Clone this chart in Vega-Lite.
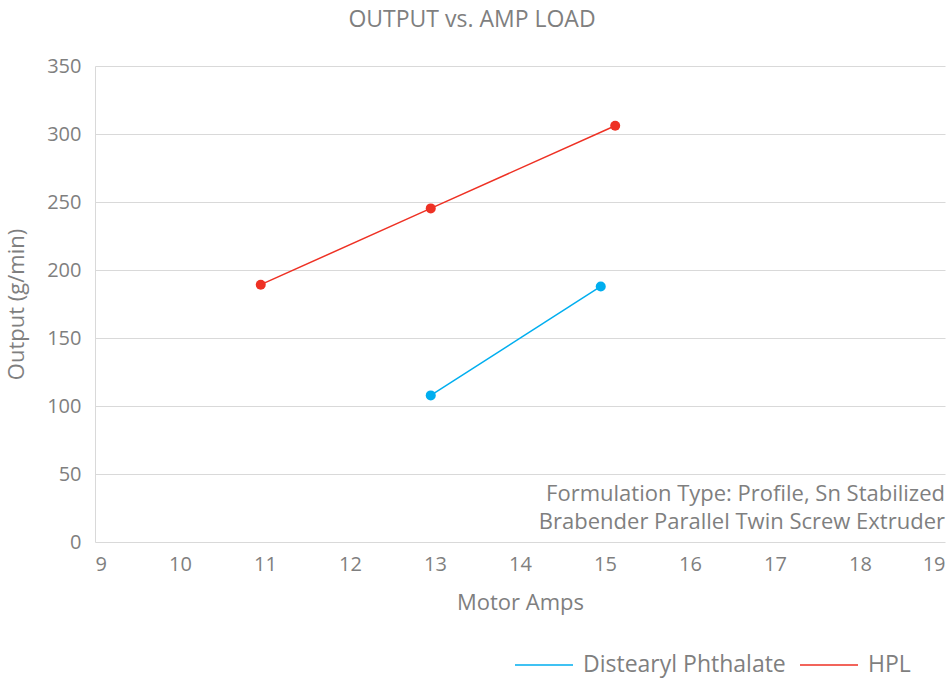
{
  "$schema": "https://vega.github.io/schema/vega-lite/v6.json",
  "width": 850,
  "height": 476,
  "autosize": {"type": "none"},
  "padding": {"left": 95, "top": 66, "right": 6, "bottom": 136},
  "title": {"text": "OUTPUT vs. AMP LOAD", "fontSize": 23, "fontWeight": "normal", "color": "#7f7f7f", "anchor": "middle", "dx": -48, "offset": 24},
  "config": {
    "font": "Open Sans",
    "view": {"stroke": null},
    "axis": {"labelColor": "#7f7f7f", "titleColor": "#7f7f7f", "labelFontSize": 20, "titleFontSize": 22, "titleFontWeight": "normal", "gridColor": "#d9d9d9", "domainColor": "#d9d9d9", "ticks": false},
    "legend": {"labelColor": "#7f7f7f", "labelFontSize": 23, "labelLimit": 0}
  },
  "layer": [
    {
      "data": {"name": "series"},
      "mark": {"type": "line", "strokeWidth": 1.5},
      "encoding": {
        "x": {"field": "amps", "type": "quantitative", "scale": {"domain": [9, 19], "nice": false}, "axis": {"title": "Motor Amps", "format": "d", "values": [9,10,11,12,13,14,15,16,17,18,19], "grid": false, "domain": false, "labelPadding": 12, "titlePadding": 18}},
        "y": {"field": "output", "type": "quantitative", "scale": {"domain": [0, 350], "nice": false}, "axis": {"title": "Output (g/min)", "format": "d", "values": [0,50,100,150,200,250,300,350], "labelPadding": 14, "titlePadding": 18}},
        "color": {"field": "series", "type": "nominal", "scale": {"domain": ["Distearyl Phthalate", "HPL"], "range": ["#00aeef", "#ee3124"]},
          "legend": {"title": null, "orient": "none", "legendX": 419, "legendY": 569, "direction": "horizontal", "symbolType": "stroke", "symbolSize": 3364, "symbolStrokeWidth": 1.5, "labelOffset": 9, "columnPadding": 11}}
      }
    },
    {
      "data": {"name": "series"},
      "mark": {"type": "point", "filled": true, "size": 100, "opacity": 1},
      "encoding": {
        "x": {"field": "amps", "type": "quantitative"},
        "y": {"field": "output", "type": "quantitative"},
        "color": {"field": "series", "type": "nominal", "legend": null}
      }
    },
    {
      "data": {"values": [{"note": "Formulation Type: Profile, Sn Stabilized"}]},
      "mark": {"type": "text", "align": "right", "baseline": "middle", "fontSize": 22, "color": "#7f7f7f"},
      "encoding": {"x": {"datum": 19, "type": "quantitative"}, "y": {"datum": 35.5, "type": "quantitative"}, "text": {"field": "note"}}
    },
    {
      "data": {"values": [{"note": "Brabender Parallel Twin Screw Extruder"}]},
      "mark": {"type": "text", "align": "right", "baseline": "middle", "fontSize": 22, "color": "#7f7f7f"},
      "encoding": {"x": {"datum": 19, "type": "quantitative"}, "y": {"datum": 14.8, "type": "quantitative"}, "text": {"field": "note"}}
    }
  ],
  "datasets": {
    "series": [
      {"series": "Distearyl Phthalate", "amps": 12.95, "output": 107.8},
      {"series": "Distearyl Phthalate", "amps": 14.95, "output": 187.9},
      {"series": "HPL", "amps": 10.95, "output": 189.2},
      {"series": "HPL", "amps": 12.95, "output": 245.3},
      {"series": "HPL", "amps": 15.12, "output": 306.1}
    ]
  }
}
